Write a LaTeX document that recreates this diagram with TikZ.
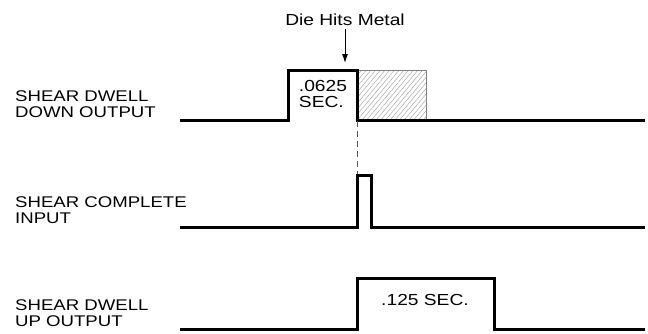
\documentclass[tikz,border=0pt]{standalone}
\usepackage{fontspec}
\setmainfont{Liberation Sans}[FakeStretch=1.2]
\usetikzlibrary{patterns.meta,arrows.meta}

\begin{document}
\begin{tikzpicture}[x=1pt,y=-1pt,
	wave/.style={line width=3pt,line join=miter},
	lbl/.style={anchor=west,align=left,inner sep=0pt,font=\fontsize{15.5}{16}\selectfont},
	txt/.style={inner sep=0pt,font=\fontsize{16}{16}\selectfont}]
			%%%%% START %%%%%
			\useasboundingbox (0,0) rectangle (648,333);
			
			% signal names
			\node[lbl] (dwelldown) at (15, 104) {SHEAR DWELL\\DOWN OUTPUT};
			\node[lbl] (complete) at (15, 210) {SHEAR COMPLETE\\INPUT};
			\node[lbl] (dwellup) at (15, 313) {SHEAR DWELL\\UP OUTPUT};
			
			% hatched zone after the down pulse
			\draw[gray, line width=0.5pt, pattern={Lines[angle=50, distance=3.6pt, line width=0.4pt]}, pattern color=gray!80] (357, 70) rectangle (426, 120);
			
			% waveforms
			\draw[wave] (180, 120) -- (288, 120) -- (288, 70) -- (357, 70) -- (357, 120) -- (645, 120);
			\draw[wave] (180, 227) -- (357, 227) -- (357, 175) -- (371, 175) -- (371, 227) -- (645, 227);
			\draw[wave] (180, 329) -- (357, 329) -- (357, 278) -- (494, 278) -- (494, 329) -- (645, 329);
			
			% timing texts
			\node[txt, align=left] (tdown) at (323, 94) {.0625\\SEC.};
			\node[txt] (tup) at (425, 300) {.125 SEC.};
			
			% die hits metal marker
			\node[txt] (diehits) at (345, 20) {Die Hits Metal};
			\coordinate (hit) at (345, 63);
			\draw[-{Latex[length=9pt,width=6pt]}, line width=1pt] (diehits.south) ++(0, 3) -- (hit);
			
			\coordinate (dashtop) at (357, 121);
			\coordinate (dashbot) at (357, 174);
			\draw[gray!70!black, line width=1pt, dash pattern=on 6pt off 4pt] (dashtop) -- (dashbot);
			%%%%% END %%%%%
\end{tikzpicture}
\end{document}
